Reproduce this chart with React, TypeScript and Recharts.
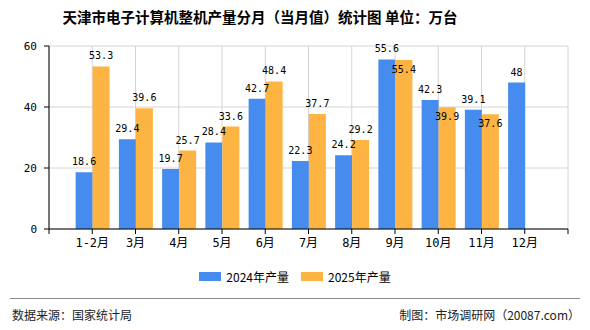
import React from "react";
import { BarChart, Bar, XAxis, YAxis, CartesianGrid, LabelList } from "recharts";

const months = ["1-2月", "3月", "4月", "5月", "6月", "7月", "8月", "9月", "10月", "11月", "12月"];
const output2024 = [18.6, 29.4, 19.7, 28.4, 42.7, 22.3, 24.2, 55.6, 42.3, 39.1, 48];
const output2025: (number | null)[] = [53.3, 39.6, 25.7, 33.6, 48.4, 37.7, 29.2, 55.4, 39.9, 37.6, null];
const seriesNames = ["2024年产量", "2025年产量"];
const yTicks = [0, 20, 40, 60];

const BLUE = "#458CEE";
const ORANGE = "#FDB443";
const monoFont = "'DejaVu Sans Mono', 'Noto Sans CJK SC', monospace";
const cjkFont = "'Noto Sans CJK SC', sans-serif";

// months sit on integer positions; 0 and 12 are the empty ends of the axis
const data = months.map((m, i) => ({
  month: m,
  pos: i + 1,
  y2024: output2024[i],
  y2025: output2025[i],
}));
const xTicks = Array.from({ length: months.length + 2 }, (_, i) => i);

const ValueLabel = (props: any, inside: boolean) => {
  const { x, y, width, value } = props;
  if (value == null) return null;
  return (
    <text
      x={Number(x) + Number(width) / 2}
      y={inside ? Number(y) + 12.5 : Number(y) - 7}
      textAnchor="middle"
      fontSize={10}
      fontFamily={monoFont}
      fill="#000"
    >
      {value}
    </text>
  );
};

export default function App() {
  return (
    <div style={{ position: "absolute", left: 0, top: 0, width: 590, height: 330, background: "#fff" }}>
      <div
        style={{
          position: "absolute",
          left: 0,
          width: 520,
          top: 6,
          textAlign: "center",
          fontFamily: cjkFont,
          fontWeight: "bold",
          fontSize: 14.5,
          color: "#000",
          lineHeight: "22px",
        }}
      >
        天津市电子计算机整机产量分月（当月值）统计图 单位：万台
      </div>

      <BarChart
        width={590}
        height={330}
        data={data}
        margin={{ top: 46, right: 22, bottom: 0, left: 0 }}
        barGap={0}
      >
        <CartesianGrid stroke="#d4d4d4" />
        <XAxis
          type="number"
          dataKey="pos"
          domain={[0, months.length + 1]}
          ticks={xTicks}
          interval={0}
          height={101}
          tickSize={5}
          tickMargin={4}
          stroke="#000"
          tickFormatter={(v: number) => months[v - 1] ?? ""}
          tick={{ fontSize: 12, fill: "#000", fontFamily: monoFont }}
        />
        <YAxis
          domain={[0, 60]}
          ticks={yTicks}
          width={49}
          tickSize={5}
          tickMargin={7}
          stroke="#000"
          tick={{ fontSize: 11, fill: "#000", fontFamily: monoFont }}
        />
        <Bar dataKey="y2024" name={seriesNames[0]} fill={BLUE} barSize={17} isAnimationActive={false}>
          <LabelList dataKey="y2024" content={(p: any) => ValueLabel(p, false)} />
        </Bar>
        <Bar dataKey="y2025" name={seriesNames[1]} fill={ORANGE} barSize={17} isAnimationActive={false}>
          <LabelList
            dataKey="y2025"
            content={(p: any) => {
              const i = Number(p.index);
              const v = output2025[i];
              // when the 2024 bar is taller the label moves into the bar top
              const inside = v != null && output2024[i] > v;
              return ValueLabel(p, inside);
            }}
          />
        </Bar>
      </BarChart>

      <div
        style={{
          position: "absolute",
          top: 268,
          left: 0,
          width: 590,
          display: "flex",
          justifyContent: "center",
          gap: 12,
          fontFamily: cjkFont,
          fontSize: 12,
          color: "#000",
        }}
      >
        {seriesNames.map((name, i) => (
          <div key={name} style={{ display: "flex", alignItems: "center" }}>
            <span style={{ width: 22, height: 9, background: i === 0 ? BLUE : ORANGE, marginRight: 5 }} />
            <span>{name}</span>
          </div>
        ))}
      </div>

      <div style={{ position: "absolute", left: 10, right: 10, top: 298, borderTop: "1px solid #8c8c8c" }} />
      <div
        style={{
          position: "absolute",
          left: 12,
          top: 306,
          fontFamily: cjkFont,
          fontSize: 12,
          color: "#222",
        }}
      >
        数据来源：国家统计局
      </div>
      <div
        style={{
          position: "absolute",
          right: 10,
          top: 306,
          fontFamily: cjkFont,
          fontSize: 12,
          color: "#222",
        }}
      >
        制图：市场调研网（20087.com）
      </div>
    </div>
  );
}
